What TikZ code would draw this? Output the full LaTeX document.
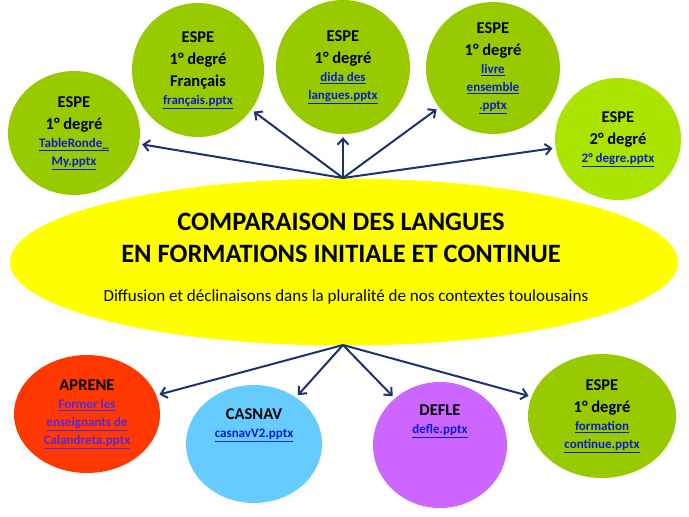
\documentclass[tikz,border=0pt]{standalone}
\usepackage{fontspec}
\setmainfont{Carlito}
\usetikzlibrary{shapes.geometric,arrows.meta}
\definecolor{espegreen}{RGB}{152,202,0}
\definecolor{espelight}{RGB}{170,228,0}
\definecolor{centreyellow}{RGB}{255,255,0}
\definecolor{apred}{RGB}{255,56,0}
\definecolor{casblue}{RGB}{102,204,255}
\definecolor{deflepurple}{RGB}{204,102,255}
\definecolor{navy}{RGB}{28,50,110}
\definecolor{linkblue}{RGB}{10,30,200}
\definecolor{linkviolet}{RGB}{85,40,220}
\newcommand{\petit}{\fontsize{13}{17}\selectfont}
\newcommand{\lien}[1]{{\petit\textcolor{linkblue}{\underline{#1}}}}
\newcommand{\lienv}[1]{{\petit\textcolor{linkviolet}{\underline{#1}}}}
\begin{document}
\begin{tikzpicture}[x=1pt,y=-1pt,
  bulle/.style={ellipse, inner sep=0pt, align=center, font=\bfseries\fontsize{16.5}{18}\selectfont},
  fleche/.style={-{Straight Barb[length=6pt,width=11pt]}, line width=2pt, draw=navy, shorten >=3pt}]
 \useasboundingbox (0,0) rectangle (689,517);
 % ellipse centrale
        \node[ellipse, fill=centreyellow, minimum width=668pt, minimum height=167pt, inner sep=0pt] (C) at (344,262) {};
        \node[align=center, font=\bfseries\fontsize{26.5}{32}\selectfont] (C-titre) at (341,238) {COMPARAISON DES LANGUES\\EN FORMATIONS INITIALE ET CONTINUE};
        \node[font=\fontsize{17}{20}\selectfont] (C-sous) at (346,297) {Diffusion et déclinaisons dans la pluralité de nos contextes toulousains};
        \coordinate (H-1) at (343,178);
        \coordinate (H-2) at (343,345);
 % bulles du haut
        \node[bulle, fill=espegreen, minimum width=132pt, minimum height=124pt] (E-1) at (74,133) {ESPE\\[4pt]1° degré\\\lien{TableRonde\_}\\\lien{My.pptx}};
        \node[bulle, fill=espegreen, minimum width=132pt, minimum height=134pt] (E-2) at (198,70) {ESPE\\[4pt]1° degré\\[4pt]Français\\\lien{français.pptx}};
        \node[bulle, fill=espegreen, minimum width=134pt, minimum height=134pt] (E-3) at (343,67) {ESPE\\[4pt]1° degré\\\lien{dida des}\\\lien{langues.pptx}};
        \node[bulle, fill=espegreen, minimum width=134pt, minimum height=132pt] (E-4) at (493,68) {ESPE\\[4pt]1° degré\\\lien{livre}\\\lien{ensemble}\\\lien{.pptx}};
        \node[bulle, fill=espelight, minimum width=126pt, minimum height=122pt] (E-5) at (618,139) {ESPE\\[4pt]2° degré\\\lien{2° degre.pptx}};
 % bulles du bas
        \node[bulle, fill=apred, minimum width=146pt, minimum height=118pt] (B-1) at (87,414) {APRENE\\\lienv{Former les}\\\lienv{enseignants de}\\\lienv{Calandreta.pptx}};
        \node[bulle, fill=casblue, minimum width=136pt, minimum height=118pt] (B-2) at (254,444) {};
        \node[bulle] (B-2-t) at (254,425) {CASNAV\\\lien{casnavV2.pptx}};
        \node[bulle, fill=deflepurple, minimum width=134pt, minimum height=126pt] (B-3) at (440,445) {};
        \node[bulle] (B-3-t) at (440,421) {DEFLE\\\lien{defle.pptx}};
        \node[bulle, fill=espegreen, minimum width=148pt, minimum height=124pt] (B-4) at (602,416) {ESPE\\[4pt]1° degré\\\lien{formation}\\\lien{continue.pptx}};
 % fleches
        \foreach \n in {1,...,5} \draw[fleche] (H-1) -- (E-\n);
        \foreach \n in {1,...,4} \draw[fleche] (H-2) -- (B-\n);
\end{tikzpicture}
\end{document}
